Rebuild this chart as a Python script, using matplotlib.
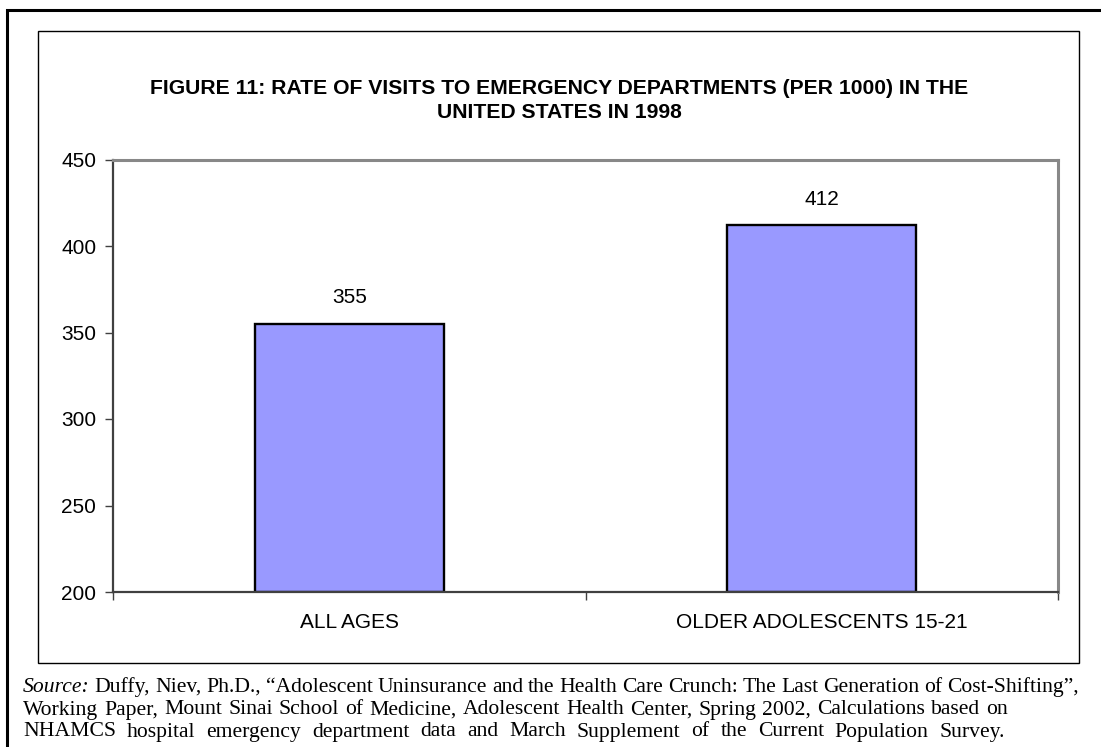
import matplotlib
matplotlib.use("Agg")
import matplotlib.pyplot as plt
from matplotlib.patches import Rectangle

categories = ["ALL AGES", "OLDER ADOLESCENTS 15-21"]
values = [355, 412]
yticks = [200, 250, 300, 350, 400, 450]
title_lines = ["FIGURE 11: RATE OF VISITS TO EMERGENCY DEPARTMENTS (PER 1000) IN THE",
               "UNITED STATES IN 1998"]
source_lines = [
    "Source: Duffy, Niev, Ph.D., \u201cAdolescent Uninsurance and the Health Care Crunch: The Last Generation of Cost-Shifting\u201d,",
    "Working Paper, Mount Sinai School of Medicine, Adolescent Health Center, Spring 2002, Calculations based on",
    "NHAMCS hospital emergency department data and March Supplement of the Current Population Survey.",
]

W, H = 1101, 747
fig = plt.figure(figsize=(W / 100, H / 100), dpi=100)
fig.patch.set_facecolor("white")

def fx(x):
    return x / W

def fy(y):
    return 1 - y / H

# outer border (left & top visible, right/bottom run off the image)
fig.add_artist(Rectangle((fx(7), fy(760)), fx(1110) - fx(7), fy(10) - fy(760),
                         transform=fig.transFigure, fill=False, edgecolor="black", lw=2.2))
# chart area border
fig.add_artist(Rectangle((fx(38), fy(663)), fx(1079) - fx(38), fy(31) - fy(663),
                         transform=fig.transFigure, fill=False, edgecolor="black", lw=1.0))

FS = 15
left, right, top, bottom = 113, 1058, 159.5, 592
ax = fig.add_axes([fx(left), fy(bottom), fx(right) - fx(left), fy(top) - fy(bottom)])
x = list(range(len(categories)))
ax.bar(x, [v - 200 for v in values], bottom=200, width=0.4, color="#9999FF",
       edgecolor="black", linewidth=1.7)
ax.set_xlim(-0.5, len(categories) - 0.5)
ax.set_ylim(200, 450)
ax.set_yticks(yticks)
ax.set_yticklabels([str(t) for t in yticks], fontsize=FS, family="Liberation Sans")
ax.set_xticks(x)
ax.set_xticklabels(categories, fontsize=FS, family="Liberation Sans")
ax.tick_params(axis="x", length=0, pad=15)
ax.tick_params(axis="y", length=6, width=1, color="#404040", direction="out", pad=6)
ax.set_xticks([-0.5, 0.5, 1.5], minor=True)
ax.tick_params(axis="x", which="minor", length=6, width=1, color="#404040", direction="out")
for s in ["top", "right"]:
    ax.spines[s].set_color("#888888")
    ax.spines[s].set_linewidth(2.2)
for s in ["left", "bottom"]:
    ax.spines[s].set_color("#404040")
    ax.spines[s].set_linewidth(1.6)

for xi, v in zip(x, values):
    ax.annotate(str(v), (xi, v), xytext=(0, 12), textcoords="offset points",
                ha="center", va="bottom", fontsize=FS, family="Liberation Sans")

fig.text(fx(559), fy(89), title_lines[0], ha="center", va="center", fontsize=15.2,
         fontweight="bold", family="Liberation Sans")
fig.text(fx(559), fy(113), title_lines[1], ha="center", va="center", fontsize=15.2,
         fontweight="bold", family="Liberation Sans")

# source note, laid out word by word to match the original line ends
renderer = fig.canvas.get_renderer()
sfs = 15.6
line_y = [687, 710, 732]
line_right = [1079, 1008, 1005]
x0 = 23
for li, line in enumerate(source_lines):
    words = line.split(" ")
    arts = []
    for wi, w in enumerate(words):
        style = "italic" if (li == 0 and wi == 0) else "normal"
        t = fig.text(fx(x0), fy(line_y[li]), w, ha="left", va="center", fontsize=sfs,
                     family="Liberation Serif", style=style)
        arts.append(t)
    widths = [a.get_window_extent(renderer).width for a in arts]
    gap = (line_right[li] - x0 - sum(widths)) / (len(words) - 1)
    cx = x0
    for a, wdt in zip(arts, widths):
        a.set_x(fx(cx))
        cx += wdt + gap

fig.savefig("out.png", dpi=100)
